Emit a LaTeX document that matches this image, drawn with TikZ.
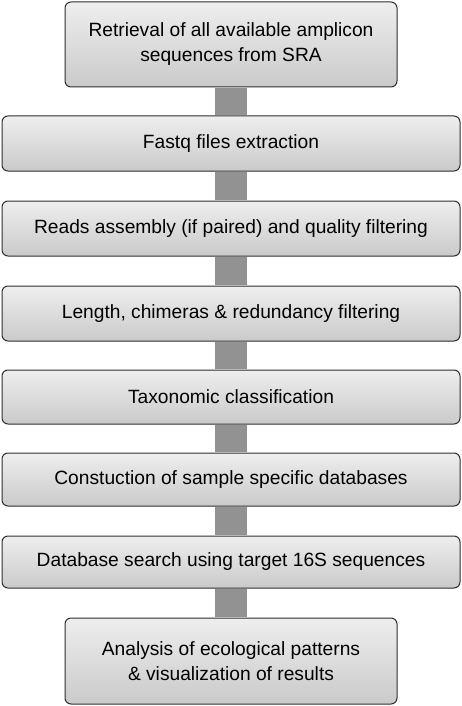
\documentclass[tikz,border=0pt]{standalone}
\usepackage{fontspec}
\setmainfont{Liberation Sans}
\usetikzlibrary{calc}
\definecolor{boxtop}{HTML}{EEEEEE}
\definecolor{boxbot}{HTML}{CACACA}
\definecolor{boxline}{HTML}{2E2E2E}
\definecolor{connfill}{HTML}{929292}
\begin{document}
\begin{tikzpicture}[x=1pt,y=1pt,
  stepbox/.style={draw=boxline, line width=1pt, rounded corners=6pt,
    top color=boxtop, bottom color=boxbot, minimum width=#1, align=center,
    font=\fontsize{19.2}{25}\selectfont, inner sep=0pt},
  conn/.style={fill=connfill, draw=none}]
\useasboundingbox (0,0) rectangle (462,-706);
\node[stepbox=332pt, minimum height=85pt] (b1) at (231,-44.5) {Retrieval of all available amplicon\\sequences from SRA};
\node[stepbox=458pt, minimum height=55pt] (b2) at (231,-143.5) {Fastq files extraction};
\node[stepbox=458pt, minimum height=55pt] (b3) at (231,-228.5) {Reads assembly (if paired) and quality filtering};
\node[stepbox=458pt, minimum height=55pt] (b4) at (231,-313.5) {Length, chimeras \& redundancy filtering};
\node[stepbox=458pt, minimum height=54pt] (b5) at (231,-397) {Taxonomic classification};
\node[stepbox=458pt, minimum height=53pt] (b6) at (231,-479.5) {Constuction of sample specific databases};
\node[stepbox=458pt, minimum height=52pt] (b7) at (231,-562) {Database search using target 16S sequences};
\node[stepbox=332pt, minimum height=86pt] (b8) at (231,-661) {Analysis of ecological patterns\\\& visualization of results};
\foreach \a/\b in {b1/b2,b2/b3,b3/b4,b4/b5,b5/b6,b6/b7,b7/b8}{
  \fill[conn] ($(\a.south)+(-16,-0.5)$) rectangle ($(\b.north)+(16,0.5)$);
}
\end{tikzpicture}
\end{document}
